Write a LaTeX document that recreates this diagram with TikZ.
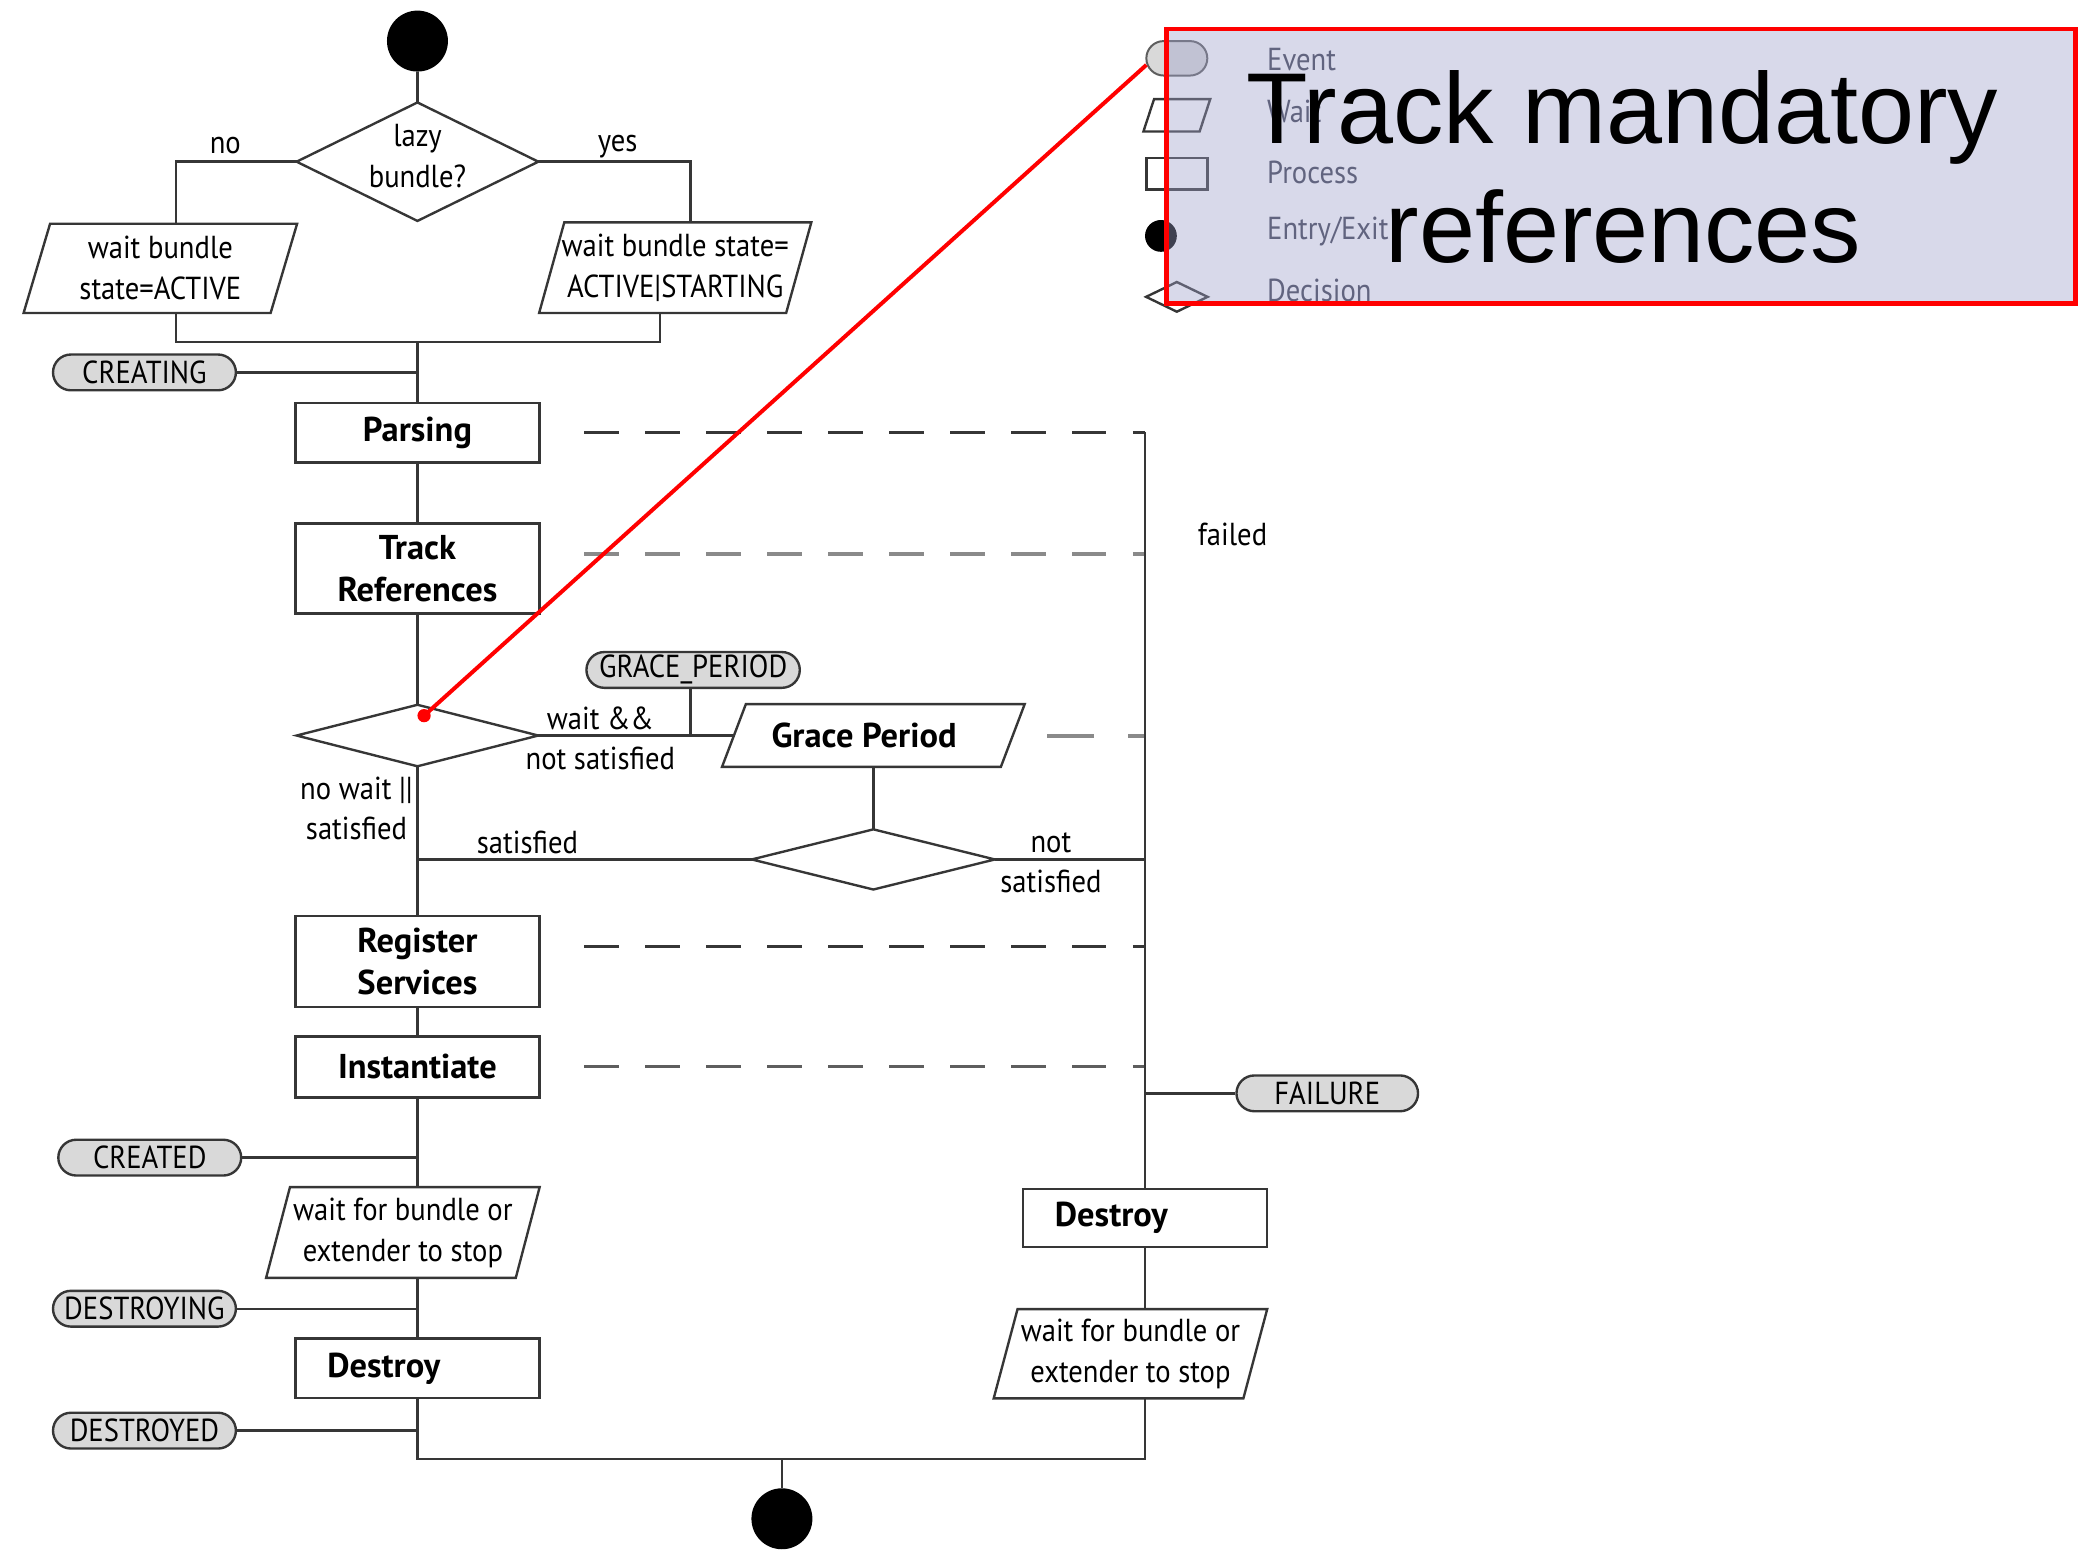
\documentclass[tikz,border=0pt]{standalone}
\usepackage{fontspec}
\setmainfont{Liberation Sans}
\newfontfamily\diag[FakeStretch=0.9]{PT Sans}
\newfontfamily\diagbf{PT Sans Bold}
\usetikzlibrary{shapes.misc,calc}

\definecolor{ln}{HTML}{363636}
\definecolor{pillfill}{HTML}{D9D9D9}
\definecolor{callfill}{RGB}{157,160,202}
\definecolor{lgtext}{HTML}{3A3C4E}
\definecolor{dashgray}{HTML}{8A8A8A}

% outline of a slanted (wait) box around a text node
\newcommand\slantbox[2]{%
  \draw[flow] ([xshift=#2]#1.north west) -- ([xshift=#2]#1.north east)
    -- ([xshift=-#2]#1.south east) -- ([xshift=-#2]#1.south west) -- cycle;}
% outline of a decision diamond around a text node
\newcommand\rhomb[1]{%
  \draw[flow] (#1.north) -- (#1.east) -- (#1.south) -- (#1.west) -- cycle;}

\tikzset{
  flow/.style={draw=ln, line width=1.8pt},
  proc/.style={draw=ln, line width=1.8pt, rectangle, inner sep=0pt,
    minimum width=184pt, font=\diagbf\fontsize{26}{32}\selectfont,
    align=center, text=black},
  txtbox/.style={rectangle, inner sep=0pt,
    font=\diag\fontsize{24}{31}\selectfont, align=center},
  pill/.style={rounded rectangle, draw=ln, line width=1.8pt, fill=pillfill,
    minimum width=138pt, minimum height=27pt, inner sep=0pt,
    font=\diag\fontsize{24}{24}\selectfont},
  lbl/.style={font=\diag\fontsize{24}{30}\selectfont, align=center, inner sep=0pt},
  failpath/.style={draw=ln, line width=2.2pt, dash pattern=on 26pt off 20pt, dash phase=26pt},
  failpale/.style={draw=dashgray, line width=3pt, dash pattern=on 26pt off 20pt, dash phase=26pt},
  terminal/.style={circle, fill=black, inner sep=0pt, minimum size=46pt},
  lgtxt/.style={anchor=west, inner sep=0pt, text=lgtext, font=\diag\fontsize{24}{24}\selectfont},
}

\begin{document}
\begin{tikzpicture}[x=1pt,y=-1pt]
\useasboundingbox (0,0) rectangle (1568,1176);

% ---------- start and lazy decision ----------
\node[terminal] (start) at (315,31) {};
\node[txtbox, minimum width=182pt, minimum height=89pt] (lazy) at (315,122) {};
\rhomb{lazy}
\node[txtbox] (lazytxt) at (315,118) {lazy\\bundle?};
\draw[flow] (start) -- (lazy.north);

\node[txtbox, minimum width=186pt, minimum height=67pt] (w1) at (121,202.5) {wait bundle\\state=ACTIVE};
\slantbox{w1}{10}
\node[txtbox, minimum width=186pt, minimum height=68pt] (w2) at (509.5,202) {wait bundle state=\\ACTIVE|STARTING};
\slantbox{w2}{9.5}

\draw[flow] (lazy.west) -| ([xshift=12]w1.north);
\draw[flow] (lazy.east) -| ([xshift=11.5]w2.north);
\node[lbl] (lno) at (170,110) {no};
\node[lbl] (lyes) at (466,111) {yes};

\coordinate (merge) at (315,258);
\draw[flow] ([xshift=12]w1.south) |- (merge) -| ([xshift=-11.5]w2.south);

% ---------- creation chain ----------
\node[pill] (creating) at (109,281) {CREATING};
\node[proc, minimum height=45pt] (parsing) at (315,326.5) {Parsing};
\node[proc, minimum height=68pt] (track) at (315,429) {Track\\References};
\node[txtbox, minimum width=182pt, minimum height=46pt] (d2) at (315,555) {};
\rhomb{d2}
\node[pill, minimum width=161pt] (gp) at (523,505.5) {GRACE\_PERIOD};
\node[txtbox, font=\diagbf\fontsize{26}{31}\selectfont, minimum width=210pt, minimum height=47pt] (grace) at (659,555) {\kern-14pt Grace Period};
\slantbox{grace}{9}
\node[txtbox, minimum width=183pt, minimum height=45pt] (d3) at (659,648.5) {};
\rhomb{d3}
\node[proc, minimum height=69pt] (register) at (315,725.5) {Register\\Services};
\node[proc, minimum height=46pt] (inst) at (315,805) {Instantiate};
\node[pill] (created) at (113,873.5) {CREATED};
\node[txtbox, minimum width=188pt, minimum height=68pt] (wl) at (304,930) {wait for bundle or\\extender to stop};
\slantbox{wl}{9}
\node[pill] (destroying) at (109,987.5) {DESTROYING};
\node[proc, minimum height=45pt, text width=136pt, align=left, inner xsep=24pt] (dl) at (315,1032.5) {Destroy};
\node[pill] (destroyed) at (109,1079.5) {DESTROYED};

\draw[flow] (merge) -- (parsing.north);
\draw[flow] (creating.east) -- (creating.east -| merge);
\draw[flow] (parsing.south) -- (track.north);
\draw[flow] (track.south) -- (d2.north);
\draw[flow] (d2.east) -- (grace.west);
\draw[flow] ([xshift=-2]gp.south) -- ([xshift=-2]gp.south |- d2.east);
\draw[flow] (grace.south) -- (d3.north);
\draw[flow] (d3.west) -- (d3.west -| d2.south);
\draw[flow] (d2.south) -- (register.north);
\draw[flow] (register.south) -- (inst.north);
\draw[flow] (inst.south) -- (inst.south |- wl.north);
\draw[flow] (created.east) -- (created.east -| inst.south);
\draw[flow] (inst.south |- wl.south) -- (dl.north);
\draw[flow] (destroying.east) -- (destroying.east -| dl.north);

\node[lbl] (lwait) at (453,557) {wait \&\&\\not satisfied};
\node[lbl] (lnowait) at (269,610) {no wait ||\\satisfied};
\node[lbl] (lsat) at (398,636) {satisfied};
\node[lbl] (lnot) at (793,651) {not\\satisfied};

% ---------- failure rail ----------
\coordinate (railtop) at (864,326);
\coordinate (railbot) at (864,1101);
\coordinate (joinL) at (315,1101);
\coordinate (joinM) at (590,1101);
\node[proc, minimum height=44pt, text width=136pt, align=left, inner xsep=24pt] (dr) at (864,919) {Destroy};
\node[txtbox, minimum width=188pt, minimum height=67pt] (wr) at (853,1021.5) {wait for bundle or\\extender to stop};
\slantbox{wr}{9}
\node[pill, minimum width=137pt] (failure) at (1001.5,825) {FAILURE};
\node[lbl] (lfailed) at (930,403) {failed};

\draw[failpath] ([xshift=13]parsing.east) -- (parsing.east -| railtop);
\draw[failpale] ([xshift=13,yshift=11]track.east) -- ([yshift=11]track.east -| railtop);
\draw[failpale, dash pattern=on 35pt off 26pt, dash phase=0pt] ([xshift=26]grace.east) -- (grace.east -| railtop);
\draw[failpath] ([xshift=13,yshift=11]register.east) -- ([yshift=11]register.east -| railtop);
\draw[failpath, draw=ln!80] ([xshift=13]inst.east) -- (inst.east -| railtop);
\draw[flow] (d3.east) -- (d3.east -| railtop);
\draw[flow] (railtop) -- (dr.north);
\draw[flow] (failure.west) -- (failure.west -| railtop);
\draw[flow] (dr.south) -- (dr.south |- wr.north);
\draw[flow] (dr.south |- wr.south) -- (railbot) -- (joinL) -- (dl.south);
\draw[flow] (destroyed.east) -- (destroyed.east -| dl.south);

\node[terminal] (stop) at (590,1146) {};
\draw[flow] (joinM) -- (stop);

% ---------- legend ----------
\node[rounded rectangle, draw=ln!80, line width=1.5pt, fill=pillfill, minimum width=46pt, minimum height=26pt, inner sep=0pt] (lgev) at (888,44) {};
\node[txtbox, minimum width=42pt, minimum height=24pt] (lgwait) at (888,87) {};
\slantbox{lgwait}{4}
\node[rectangle, draw=ln, line width=1.8pt, minimum width=46pt, minimum height=24pt, inner sep=0pt] (lgproc) at (888,131) {};
\node[terminal, minimum size=24pt] (lgdot) at (876,178) {};
\node[txtbox, minimum width=46pt, minimum height=22pt] (lgdec) at (888,224) {};
\rhomb{lgdec}
\node[lgtxt] (lgt1) at (956,45) {Event};
\node[lgtxt] (lgt2) at (956,84) {Wait};
\node[lgtxt] (lgt3) at (956,130) {Process};
\node[lgtxt] (lgt4) at (956,175) {Entry/Exit};
\node[lgtxt] (lgt5) at (956,219) {Decision};

% ---------- callout ----------
\node[draw=red, line width=3.5pt, fill=callfill, fill opacity=0.4, draw opacity=1,
      minimum width=686pt, minimum height=207pt, inner sep=0pt] (callout) at (1223,125.5) {};
\node[anchor=base, inner sep=0pt, font=\fontsize{76}{90}\selectfont] (callA) at (1224,108) {Track mandatory};
\node[anchor=base, inner sep=0pt, font=\fontsize{76}{90}\selectfont] (callB) at (1225,198) {references};
\node[circle, fill=red, inner sep=0pt, minimum size=10pt] (pin) at (320,540) {};
\coordinate (tail) at (865,49);
\draw[red, line width=3pt] (tail) -- (pin.center);
\end{tikzpicture}
\end{document}
